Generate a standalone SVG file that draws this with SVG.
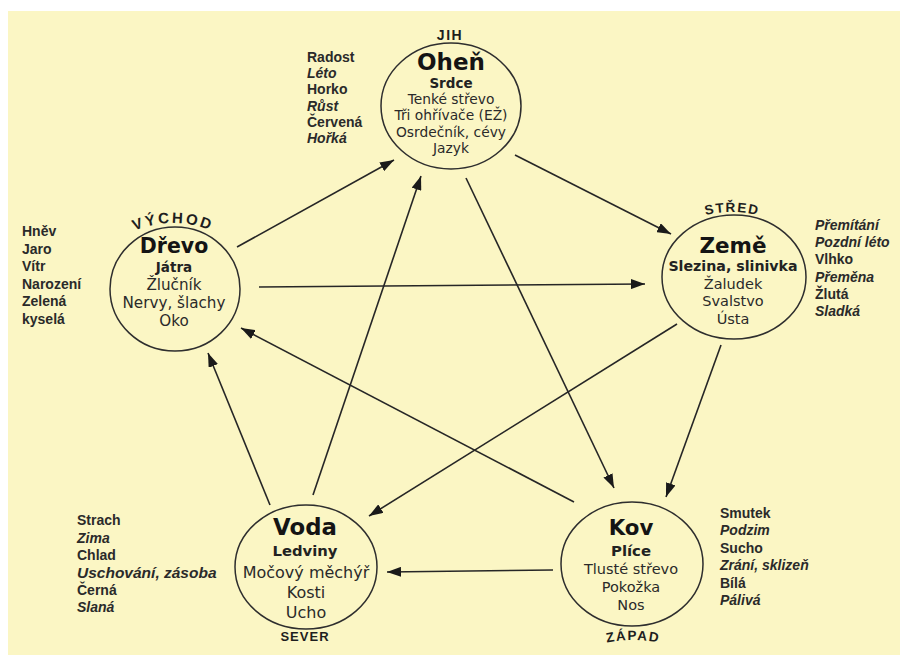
<svg xmlns="http://www.w3.org/2000/svg" xmlns:xlink="http://www.w3.org/1999/xlink" width="900" height="655" viewBox="0 0 900 655">
<style>
.bg{fill:#fbf6c4}
.circ{fill:none;stroke:#2e2e2e;stroke-width:1.5}
.edge{stroke:#262626;stroke-width:1.6;fill:none}
.ttl{font-family:"DejaVu Sans",sans-serif;font-weight:700;fill:#141414;text-anchor:middle}
.sub{font-family:"DejaVu Sans",sans-serif;font-weight:700;fill:#222;text-anchor:middle}
.org{font-family:"DejaVu Sans",sans-serif;font-weight:400;fill:#2a2a2a;text-anchor:middle}
.dir{font-family:"Liberation Sans",Arial,sans-serif;font-weight:700;fill:#1e1e1e}
.lst{font-family:"Liberation Sans",Arial,sans-serif;font-weight:700;fill:#2a2a2a;font-size:14px}
.it{font-style:italic}
</style>
<defs>
<marker id="ah" markerUnits="userSpaceOnUse" markerWidth="14" markerHeight="10" refX="14" refY="5" orient="auto">
<path d="M0,0 L14,5 L0,10 z" fill="#1a1a1a"/>
</marker>
<path id="arcV" d="M93,263 A100,100 0 0,1 253,263"/>
<path id="arcS" d="M652,246.5 A110,110 0 0,1 812,246.5"/>
<path id="arcZ" d="M553,667.5 A130,130 0 0,1 713,667.5"/>
</defs>
<rect x="0" y="0" width="900" height="655" fill="#ffffff"/>
<rect class="bg" x="8" y="11" width="892" height="644"/>

<g id="connectors">
<line class="edge" x1="237" y1="247" x2="394" y2="160" marker-end="url(#ah)"/>
<line class="edge" x1="515" y1="155" x2="671" y2="234" marker-end="url(#ah)"/>
<line class="edge" x1="259" y1="287" x2="645" y2="284" marker-end="url(#ah)"/>
<line class="edge" x1="313" y1="495" x2="421" y2="176" marker-end="url(#ah)"/>
<line class="edge" x1="466" y1="178" x2="614" y2="488" marker-end="url(#ah)"/>
<line class="edge" x1="677" y1="324" x2="369" y2="516" marker-end="url(#ah)"/>
<line class="edge" x1="574" y1="502" x2="241" y2="328" marker-end="url(#ah)"/>
<line class="edge" x1="270" y1="505" x2="208" y2="353" marker-end="url(#ah)"/>
<line class="edge" x1="721" y1="345" x2="666" y2="497" marker-end="url(#ah)"/>
<line class="edge" x1="553" y1="570" x2="387" y2="572" marker-end="url(#ah)"/>
</g>

<g id="ohen">
<ellipse class="circ" cx="451" cy="106" rx="70" ry="63"/>
<text class="dir" x="450" y="40" text-anchor="middle" font-size="14" letter-spacing="1.5">JIH</text>
<text class="ttl" x="451" y="69.5" font-size="23">Oheň</text>
<text class="sub" x="451" y="87.5" font-size="13.5">Srdce</text>
<text class="org" font-size="13.8"><tspan x="451" y="104">Tenké střevo</tspan><tspan x="451" y="120.3">Tři ohřívače (EŽ)</tspan><tspan x="451" y="136.6">Osrdečník, cévy</tspan><tspan x="451" y="152.9">Jazyk</tspan></text>
<text class="lst"><tspan x="307" y="62">Radost</tspan><tspan x="307" y="78.2" class="it">Léto</tspan><tspan x="307" y="94.4">Horko</tspan><tspan x="307" y="110.6" class="it">Růst</tspan><tspan x="307" y="126.8">Červená</tspan><tspan x="307" y="143" class="it">Hořká</tspan></text>
</g>

<g id="drevo">
<ellipse class="circ" cx="175" cy="289" rx="65" ry="62"/>
<text class="dir" font-size="15" letter-spacing="2.5"><textPath href="#arcV" xlink:href="#arcV" startOffset="50%" text-anchor="middle">VÝCHOD</textPath></text>
<text class="ttl" x="174" y="253" font-size="20.5">Dřevo</text>
<text class="sub" x="174" y="272" font-size="13.5">Játra</text>
<text class="org" font-size="15.2"><tspan x="174" y="290">Žlučník</tspan><tspan x="174" y="308">Nervy, šlachy</tspan><tspan x="174" y="326">Oko</tspan></text>
<text class="lst" font-size="15"><tspan x="22" y="236">Hněv</tspan><tspan x="22" y="253.5">Jaro</tspan><tspan x="22" y="271">Vítr</tspan><tspan x="22" y="288.5">Narození</tspan><tspan x="22" y="306">Zelená</tspan><tspan x="22" y="323.5">kyselá</tspan></text>
</g>

<g id="zeme">
<ellipse class="circ" cx="734" cy="277" rx="72" ry="62"/>
<text class="dir" font-size="13.5" letter-spacing="1.5"><textPath href="#arcS" xlink:href="#arcS" startOffset="50%" text-anchor="middle">STŘED</textPath></text>
<text class="ttl" x="733" y="252.5" font-size="21.5">Země</text>
<text class="sub" x="733" y="271" font-size="14.2">Slezina, slinivka</text>
<text class="org" font-size="14.5"><tspan x="733" y="288.5">Žaludek</tspan><tspan x="733" y="306">Svalstvo</tspan><tspan x="733" y="323.5">Ústa</tspan></text>
<text class="lst"><tspan x="815" y="230" class="it">Přemítání</tspan><tspan x="815" y="247.2" class="it">Pozdní léto</tspan><tspan x="815" y="264.4">Vlhko</tspan><tspan x="815" y="281.6" class="it">Přeměna</tspan><tspan x="815" y="298.8">Žlutá</tspan><tspan x="815" y="316" class="it">Sladká</tspan></text>
</g>

<g id="voda">
<ellipse class="circ" cx="306" cy="567" rx="71" ry="62"/>
<text class="dir" x="305" y="641" text-anchor="middle" font-size="13" letter-spacing="1">SEVER</text>
<text class="ttl" x="305" y="535" font-size="22.8">Voda</text>
<text class="sub" x="305" y="556" font-size="14.8">Ledviny</text>
<text class="org" font-size="16"><tspan x="306" y="578">Močový měchýř</tspan><tspan x="306" y="598">Kosti</tspan><tspan x="306" y="618">Ucho</tspan></text>
<text class="lst"><tspan x="77" y="525">Strach</tspan><tspan x="77" y="542.5" class="it">Zima</tspan><tspan x="77" y="560">Chlad</tspan><tspan x="77" y="577.5" class="it" font-size="15.5">Uschování, zásoba</tspan><tspan x="77" y="594.5">Černá</tspan><tspan x="77" y="612" class="it">Slaná</tspan></text>
</g>

<g id="kov">
<ellipse class="circ" cx="632" cy="564" rx="71" ry="62"/>
<text class="dir" font-size="13.5" letter-spacing="1.5"><textPath href="#arcZ" xlink:href="#arcZ" startOffset="50%" text-anchor="middle">ZÁPAD</textPath></text>
<text class="ttl" x="631" y="535" font-size="21.3">Kov</text>
<text class="sub" x="631" y="556" font-size="14.9">Plíce</text>
<text class="org" font-size="14.5"><tspan x="631" y="574">Tlusté střevo</tspan><tspan x="631" y="592">Pokožka</tspan><tspan x="631" y="610">Nos</tspan></text>
<text class="lst" font-size="13.5"><tspan x="720" y="518">Smutek</tspan><tspan x="720" y="535.4" class="it">Podzim</tspan><tspan x="720" y="552.8">Sucho</tspan><tspan x="720" y="570.2" class="it">Zrání, sklizeň</tspan><tspan x="720" y="587.6">Bílá</tspan><tspan x="720" y="605" class="it">Pálivá</tspan></text>
</g>
</svg>
